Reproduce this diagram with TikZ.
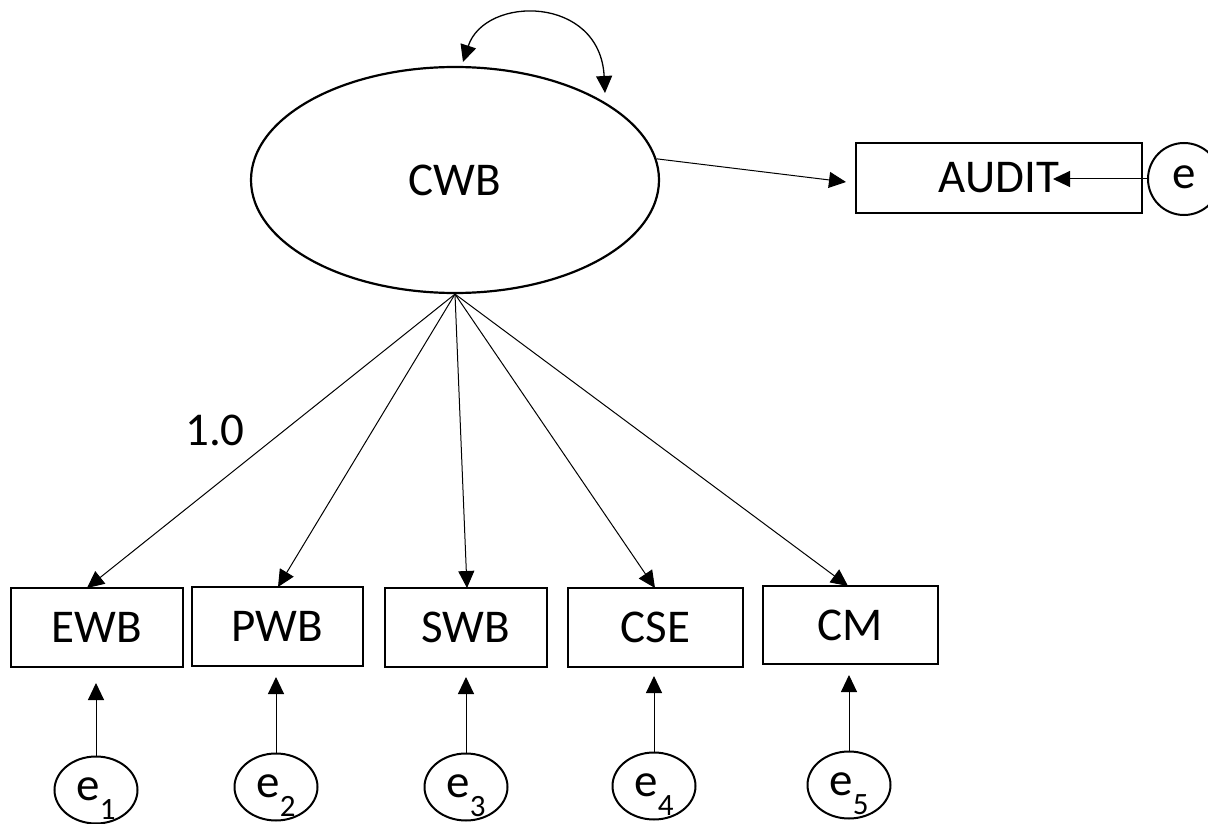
\documentclass[tikz,border=0pt]{standalone}
\usepackage{fontspec}
\setmainfont{Carlito}
\usetikzlibrary{shapes.geometric,arrows.meta}
\tikzset{
  lat/.style={ellipse, draw, line width=2.2pt, inner sep=0pt},
  obs/.style={rectangle, draw, line width=1.5pt, inner sep=0pt},
  err/.style={ellipse, draw, line width=2pt, inner sep=0pt, minimum width=83pt, minimum height=67pt},
  arr/.style={-{Triangle[length=17pt,width=16pt]}, line width=1pt},
  darr/.style={{Triangle[length=17pt,width=16pt]}-{Triangle[length=17pt,width=16pt]}, line width=1.3pt},
  txt/.style={font=\fontsize{47}{56}\selectfont},
}
\newcommand{\esub}[1]{\raisebox{2pt}{e\raisebox{-19pt}[0pt][0pt]{\fontsize{31}{36}\selectfont #1}}}
\begin{document}
\begin{tikzpicture}[x=1pt,y=-1pt]
\useasboundingbox (0,0) rectangle (1208,824);
% latent
\node[lat, txt, minimum width=408pt, minimum height=226pt] (cwb) at (455,180) {CWB};
% AUDIT
\node[obs, txt, minimum width=286pt, minimum height=70pt] (audit) at (999,178) {AUDIT};
\node[circle, draw, line width=2pt, minimum size=72pt, inner sep=0pt, txt] (e) at (1184,179) {\raisebox{3pt}{e}};
\coordinate (audittip) at (1053,179);
\coordinate (auditin) at (846,182);
\draw[arr] (cwb.6) -- (auditin);
\draw[arr] (e.west) -- (audittip);
% loop
\coordinate (lp1) at (463,62);
\coordinate (lp2) at (605,93);
\draw[darr] (lp1) .. controls (485,-5) and (600,-5) .. (lp2);
% indicators
\node[obs, txt, minimum width=172pt, minimum height=79pt] (ewb) at (97,627.5) {EWB};
\node[obs, txt, minimum width=171pt, minimum height=79pt] (pwb) at (277.5,626.5) {PWB};
\node[obs, txt, minimum width=162pt, minimum height=79pt] (swb) at (466,627.5) {SWB};
\node[obs, txt, minimum width=175pt, minimum height=79pt] (cse) at (655.5,627.5) {CSE};
\node[obs, txt, minimum width=175pt, minimum height=78pt] (cm) at (850.5,625) {CM};
\coordinate (t1) at (87,588);
\coordinate (t2) at (278,587);
\coordinate (t3) at (467,588);
\coordinate (t4) at (655,588);
\coordinate (t5) at (848,586);
\foreach \t in {t1,t2,t3,t4,t5} \draw[arr] (cwb.south) -- (\t);
\node[txt] (lab) at (215,430) {1.0};
% errors
\node[err, txt] (e1) at (96,790) {\esub{1}};
\node[err, txt] (e2) at (276,787) {\esub{2}};
\node[err, txt] (e3) at (466,787) {\esub{3}};
\node[err, txt] (e4) at (654,786) {\esub{4}};
\node[err, txt] (e5) at (849,785) {\esub{5}};
\coordinate (u1) at (96,683);
\coordinate (u2) at (276,677);
\coordinate (u3) at (466,677);
\coordinate (u4) at (654,676);
\coordinate (u5) at (849,675);
\draw[arr] (e1.north) -- (u1);
\draw[arr] (e2.north) -- (u2);
\draw[arr] (e3.north) -- (u3);
\draw[arr] (e4.north) -- (u4);
\draw[arr] (e5.north) -- (u5);
\end{tikzpicture}
\end{document}
